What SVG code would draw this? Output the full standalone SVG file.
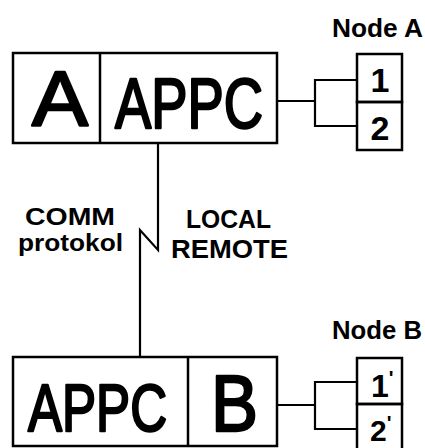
<svg xmlns="http://www.w3.org/2000/svg" width="425" height="448" viewBox="0 0 425 448">
<style>
.box{fill:none;stroke:#000;stroke-width:2.5}
.ln{fill:none;stroke:#000;stroke-width:2.2}
.big{font-family:"Liberation Sans",Arial,sans-serif;fill:#000;stroke:#000;stroke-width:2.4;stroke-linejoin:round}
.lbl{font-family:"Liberation Sans",Arial,sans-serif;font-weight:bold;fill:#000}
</style>
<rect width="425" height="448" fill="#fff"/>
<g id="nodeA">
<rect class="box" x="13" y="53" width="264" height="90"/>
<line class="box" x1="100" y1="53" x2="100" y2="143"/>
<text class="big" x="32" y="126" font-size="78" textLength="56" lengthAdjust="spacingAndGlyphs">A</text>
<text class="big" x="115" y="128" font-size="70" textLength="148" lengthAdjust="spacingAndGlyphs">APPC</text>
</g>
<g id="portsA">
<text class="lbl" x="332" y="37" font-size="26" textLength="91" lengthAdjust="spacingAndGlyphs">Node A</text>
<rect class="box" x="357" y="54" width="45" height="48"/>
<rect class="box" x="357" y="102" width="45" height="48"/>
<text class="lbl" x="380" y="92" font-size="34" text-anchor="middle">1</text>
<text class="lbl" x="380" y="140" font-size="34" text-anchor="middle">2</text>
</g>
<g id="nodeB">
<rect class="box" x="13" y="357" width="264" height="89"/>
<line class="box" x1="188" y1="357" x2="188" y2="446"/>
<text class="big" x="28" y="431" font-size="66" textLength="139" lengthAdjust="spacingAndGlyphs">APPC</text>
<text class="big" x="211" y="431" font-size="80" textLength="47" lengthAdjust="spacingAndGlyphs">B</text>
</g>
<g id="portsB">
<text class="lbl" x="332" y="339" font-size="26" textLength="90" lengthAdjust="spacingAndGlyphs">Node B</text>
<rect class="box" x="357" y="358" width="45" height="46"/>
<rect class="box" x="357" y="404" width="45" height="46"/>
<text class="lbl" x="371" y="397" font-size="32">1<tspan font-size="20" dy="-12">'</tspan></text>
<text class="lbl" x="370" y="441" font-size="30">2<tspan font-size="20" dy="-11">'</tspan></text>
</g>
<g id="labels">
<text class="lbl" x="25" y="225" font-size="23" textLength="90" lengthAdjust="spacingAndGlyphs">COMM</text>
<text class="lbl" x="18" y="251" font-size="23" textLength="105" lengthAdjust="spacingAndGlyphs">protokol</text>
<text class="lbl" x="186" y="228" font-size="25" textLength="85" lengthAdjust="spacingAndGlyphs">LOCAL</text>
<text class="lbl" x="171" y="258" font-size="25" textLength="117" lengthAdjust="spacingAndGlyphs">REMOTE</text>
</g>
<g id="connectors">
<polyline class="ln" points="277,101 315,101"/>
<polyline class="ln" points="357,80 315,80 315,126 357,126"/>
<polyline class="ln" points="277,405 315,405"/>
<polyline class="ln" points="357,382 315,382 315,429 357,429"/>
<polyline class="ln" points="158,143 158,250 140,230 140,357"/>
</g>
</svg>
